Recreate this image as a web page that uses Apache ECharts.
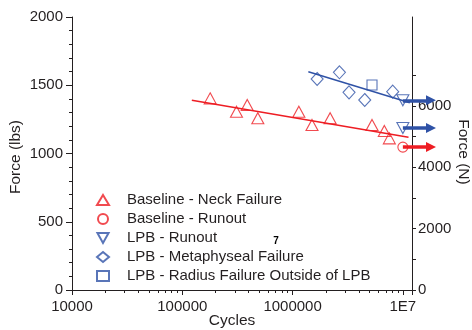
<!DOCTYPE html>
<html><head><meta charset="utf-8">
<script src="https://cdn.jsdelivr.net/npm/echarts@6.0.0/dist/echarts.min.js"></script>
<style>html,body{margin:0;padding:0;background:#fff}#c{width:472px;height:330px}</style>
</head><body><div id="c"></div>
<script>
// ---- data ----
const xLabelMap = { 10000: '10000', 100000: '100000', 1000000: '1000000', 10000000: '1E7' };
const yRightTicks = [0,1000,2000,3000,4000,5000,6000,7000,8000];
const yRightLabels = [0,2000,4000,6000,8000];

const neckX = [179000, 310000, 388000, 484000, 1140000, 1500000, 2190000, 5250000, 6790000, 7540000];
const neckY = [1404, 1306, 1355, 1258, 1306, 1209, 1258, 1209, 1165, 1111];
const baseRunX = [10000000];
const baseRunY = [1047];
const lpbRunX = [10000000, 10000000];
const lpbRunY = [1390, 1187];
const metaX = [1670000, 2660000, 3250000, 4510000, 8090000];
const metaY = [1546, 1595, 1448, 1392, 1453];
const radX = [5250000];
const radY = [1502];
const redFitX = [122000, 11250000];
const redFitY = [1390, 1119];
const blueFitX = [1390000, 11560000];
const blueFitY = [1599, 1372];
const arrowStartX = 10000000;
const arrowEndX = 18000000;
const blueArrowY = [1390, 1187];
const redArrowY = [1047];

const names = ['Baseline - Neck Failure','Baseline - Runout','LPB - Runout','LPB - Metaphyseal Failure','LPB - Radius Failure Outside of LPB'];

// ---- styles ----
const RED = '#ee1d23', BLUE = '#2f52a6', INK = '#231f20';
const FONT = 'Liberation Sans, Arial, sans-serif';
const zip = (a, b) => a.map((v, i) => [v, b[i]]);
const downTri = 'path://M0,0 L10,0 L5,9 Z';
const hollow = c => ({ color: 'rgba(0,0,0,0)', borderColor: c, borderWidth: 1.1 });

const chart = echarts.init(document.getElementById('c'), null, { renderer: 'canvas' });
const lab = { color: INK, fontFamily: FONT, fontSize: 15 };
const plain = v => String(Math.round(v));
const xLabel = v => { const k = Math.round(v); return xLabelMap[k] !== undefined ? xLabelMap[k] : ''; };
const xBase = { type: 'log', logBase: 10, min: 10000, max: 12100000, gridIndex: 0, splitLine: { show: false }, minorSplitLine: { show: false } };

chart.setOption({
  animation: false,
  grid: { left: 72, right: 60, top: 17, bottom: 40, outerBoundsMode: 'none' },
  xAxis: [
    Object.assign({}, xBase, {
      position: 'bottom',
      axisLine: { show: true, lineStyle: { color: INK, width: 1 } },
      axisTick: { show: true, inside: false, length: 5, interval: 0, lineStyle: { color: INK } },
      minorTick: { show: true, splitNumber: 9, length: 3, lineStyle: { color: INK } },
      axisLabel: Object.assign({ margin: 9, formatter: xLabel, showMaxLabel: true, hideOverlap: false }, lab)
    }),
    Object.assign({}, xBase, {
      position: 'top',
      axisLine: { show: true, lineStyle: { color: INK, width: 1 } },
      axisTick: { show: true, inside: true, length: 5, interval: 0, lineStyle: { color: INK } },
      minorTick: { show: true, splitNumber: 9, length: 3, lineStyle: { color: INK } },
      axisLabel: { show: false }
    })
  ],
  yAxis: [
    {
      type: 'value', position: 'left', min: 0, max: 2000, interval: 500,
      axisLine: { show: true, lineStyle: { color: INK, width: 1 } },
      axisTick: { show: true, length: 6, lineStyle: { color: INK } },
      minorTick: { show: true, splitNumber: 5, length: 3, lineStyle: { color: INK } },
      splitLine: { show: false },
      axisLabel: Object.assign({ margin: 9, formatter: plain }, lab)
    },
    {
      type: 'value', position: 'right', min: 0, max: 8896.44, interval: 2000,
      axisLine: { show: true, lineStyle: { color: INK, width: 1 } },
      axisTick: { show: true, length: 4, customValues: yRightTicks, lineStyle: { color: INK } },
      splitLine: { show: false },
      axisLabel: Object.assign({ margin: 6, customValues: yRightLabels, showMaxLabel: false, formatter: plain }, lab)
    }
  ],
  legend: {
    orient: 'vertical', left: 91, top: 187,
    itemWidth: 12, itemHeight: 10, itemGap: 3,
    symbolKeepAspect: true,
    data: names,
    textStyle: { color: INK, fontFamily: FONT, fontSize: 15, lineHeight: 16, padding: [0, 0, 0, 13] }
  },
  graphic: [
    { type: 'text', x: 16, y: 157, rotation: Math.PI / 2,
      style: { text: 'Force (lbs)', fill: INK, font: '15.5px ' + FONT, textAlign: 'center', textVerticalAlign: 'middle' } },
    { type: 'text', x: 463, y: 152, rotation: -Math.PI / 2,
      style: { text: 'Force (N)', fill: INK, font: '15.5px ' + FONT, textAlign: 'center', textVerticalAlign: 'middle' } },
    { type: 'text', x: 232, y: 321,
      style: { text: 'Cycles', fill: INK, font: '15.5px ' + FONT, textAlign: 'center', textVerticalAlign: 'middle' } },
    { type: 'text', x: 276, y: 241,
      style: { text: '7', fill: '#000', font: 'bold 10px ' + FONT, textAlign: 'center', textVerticalAlign: 'middle' } }
  ],
  series: [
    { type: 'line', data: zip(redFitX, redFitY), showSymbol: false, symbol: 'none', lineStyle: { color: RED, width: 1.5 }, silent: true, z: 2 },
    { type: 'line', data: zip(blueFitX, blueFitY), showSymbol: false, symbol: 'none', lineStyle: { color: BLUE, width: 1.5 }, silent: true, z: 2 },
    { name: names[0], type: 'scatter', data: zip(neckX, neckY), symbol: 'triangle', symbolSize: [12, 11], itemStyle: hollow(RED), z: 3 },
    { name: names[1], type: 'scatter', data: zip(baseRunX, baseRunY), symbol: 'circle', symbolSize: 10, itemStyle: hollow(RED), z: 3 },
    { name: names[2], type: 'scatter', data: zip(lpbRunX, lpbRunY), symbol: downTri, symbolSize: [12, 11], itemStyle: hollow(BLUE), z: 3 },
    { name: names[3], type: 'scatter', data: zip(metaX, metaY), symbol: 'diamond', symbolSize: [12, 13], itemStyle: hollow(BLUE), z: 3 },
    { name: names[4], type: 'scatter', data: zip(radX, radY), symbol: 'rect', symbolSize: [10, 10], itemStyle: hollow(BLUE), z: 3 },
    { type: 'lines', coordinateSystem: 'cartesian2d', clip: false, silent: true, z: 10,
      symbol: ['none', 'triangle'], symbolSize: [9, 10],
      lineStyle: { color: BLUE, width: 3.5, opacity: 1 },
      data: blueArrowY.map(y => ({ coords: [[arrowStartX, y], [arrowEndX, y]] })) },
    { type: 'lines', coordinateSystem: 'cartesian2d', clip: false, silent: true, z: 10,
      symbol: ['none', 'triangle'], symbolSize: [9, 10],
      lineStyle: { color: RED, width: 3.5, opacity: 1 },
      data: redArrowY.map(y => ({ coords: [[arrowStartX, y], [arrowEndX, y]] })) }
  ]
});
</script></body></html>
